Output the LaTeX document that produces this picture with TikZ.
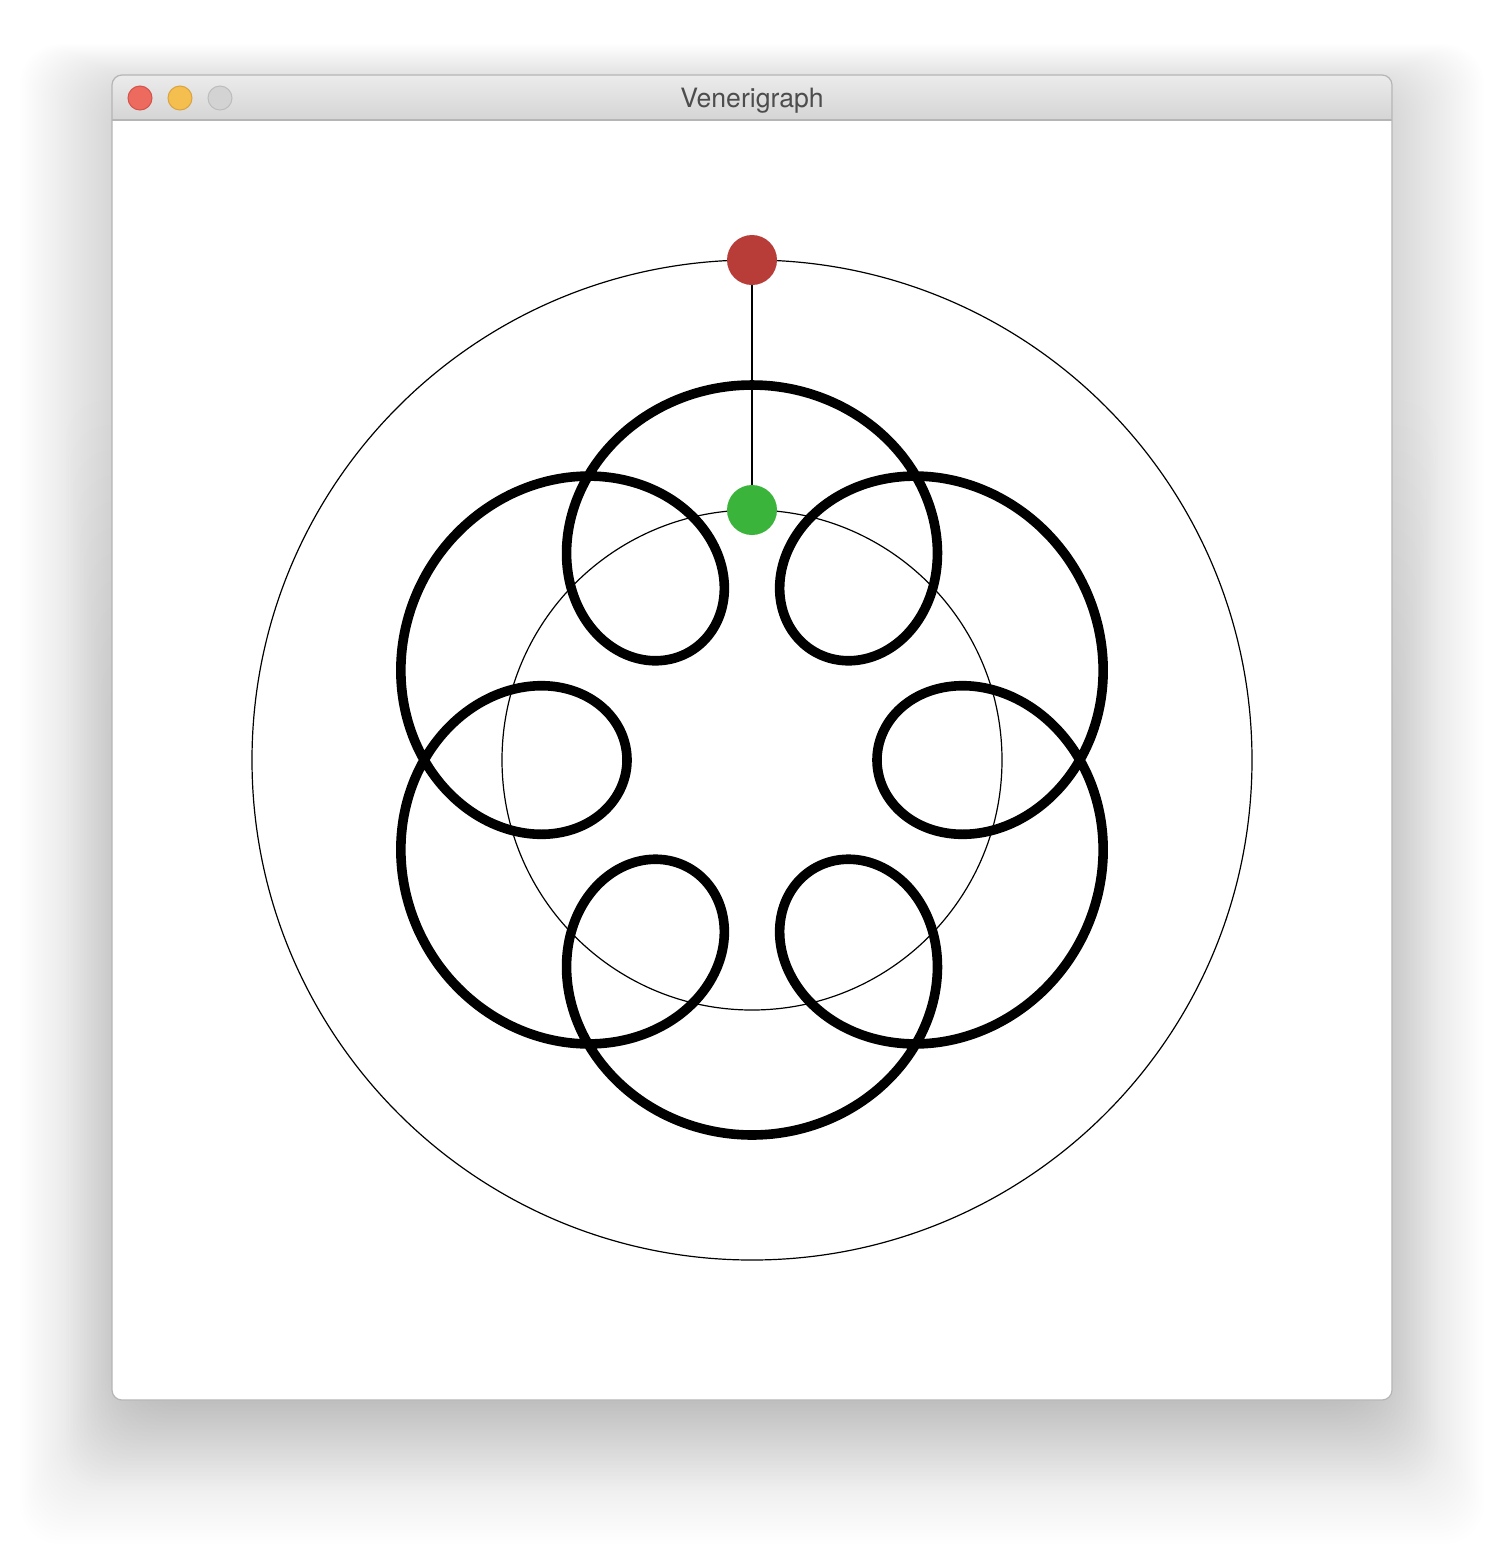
\documentclass[tikz,border=0pt]{standalone}
\usepackage{fontspec}
\setmainfont{TeX Gyre Heros}
\definecolor{reddot}{HTML}{B83D38}
\definecolor{greendot}{HTML}{3AB43A}
\definecolor{tlred}{HTML}{ED6A5E}
\definecolor{tlredb}{HTML}{D4534B}
\definecolor{tlyel}{HTML}{F5BF4F}
\definecolor{tlyelb}{HTML}{D9A441}
\definecolor{tlgray}{HTML}{D3D3D3}
\definecolor{tlgrayb}{HTML}{BDBDBD}
\definecolor{titletop}{HTML}{EBEBEB}
\definecolor{titlebot}{HTML}{D5D5D5}
\definecolor{titletext}{HTML}{4D4D4D}
\definecolor{winborder}{HTML}{B5B5B5}
\tikzset{
  orbit/.style={draw=black, line width=0.6pt},
  trace/.style={draw=black, line width=4.8pt, line join=round},
  planet/.style={circle, inner sep=0pt, minimum size=25pt},
  light/.style={circle, inner sep=0pt, minimum size=12pt, line width=0.5pt},
}
\begin{document}
\begin{tikzpicture}[x=0.5pt, y=-0.5pt]
\useasboundingbox (0,0) rectangle (1504,1548);
\fill[white] (0,0) rectangle (1504,1548);
% soft window shadow
\foreach \i in {1,...,40}{
  \fill[black, opacity=0.0055, rounded corners=20pt]
    (112-2.3*\i, 88-1.1*\i) rectangle (1392+2.3*\i, 1400+3.6*\i);
}
\foreach \i in {1,...,24}{
  \fill[black, opacity=0.005, rounded corners=20pt]
    (150-3.5*\i, 1000-25*\i) rectangle (1354+3.5*\i, 1400+3.8*\i);
}
% window
\fill[white, rounded corners=5pt] (112,75) rectangle (1392,1400);
\begin{scope}
  \clip[rounded corners=5pt] (112,75) rectangle (1392,1400);
  \shade[top color=titletop, bottom color=titlebot] (112,75) rectangle (1392,120);
  \draw[draw=winborder, line width=0.6pt] (112,120) -- (1392,120);
\end{scope}
\draw[draw=winborder, line width=0.6pt, rounded corners=5pt] (112,75) rectangle (1392,1400);
% traffic lights
\node[light, fill=tlred, draw=tlredb] (close) at (140,98) {};
\node[light, fill=tlyel, draw=tlyelb] (mini) at (180,98) {};
\node[light, fill=tlgray, draw=tlgrayb] (zoom) at (220,98) {};
\node[text=titletext, font=\fontsize{13.3pt}{16pt}\selectfont] (title) at (752,101) {Venerigraph};
% orbits
\draw[orbit] (752,760) circle[radius=250pt];
\draw[orbit] (752,760) circle[radius=125pt];
% traced curve (midpoint of the two planets)
\draw[trace] plot[domain=0:360, samples=721, smooth]
  ({752+250*cos(90+\x)+125*cos(90+7*\x)}, {760-250*sin(90+\x)-125*sin(90+7*\x)}) -- cycle;
% planets
\node[planet, fill=reddot] (red) at (752,260) {};
\node[planet, fill=greendot] (green) at (752,510) {};
\draw[black, line width=1pt] (red) -- (green);
\end{tikzpicture}
\end{document}
